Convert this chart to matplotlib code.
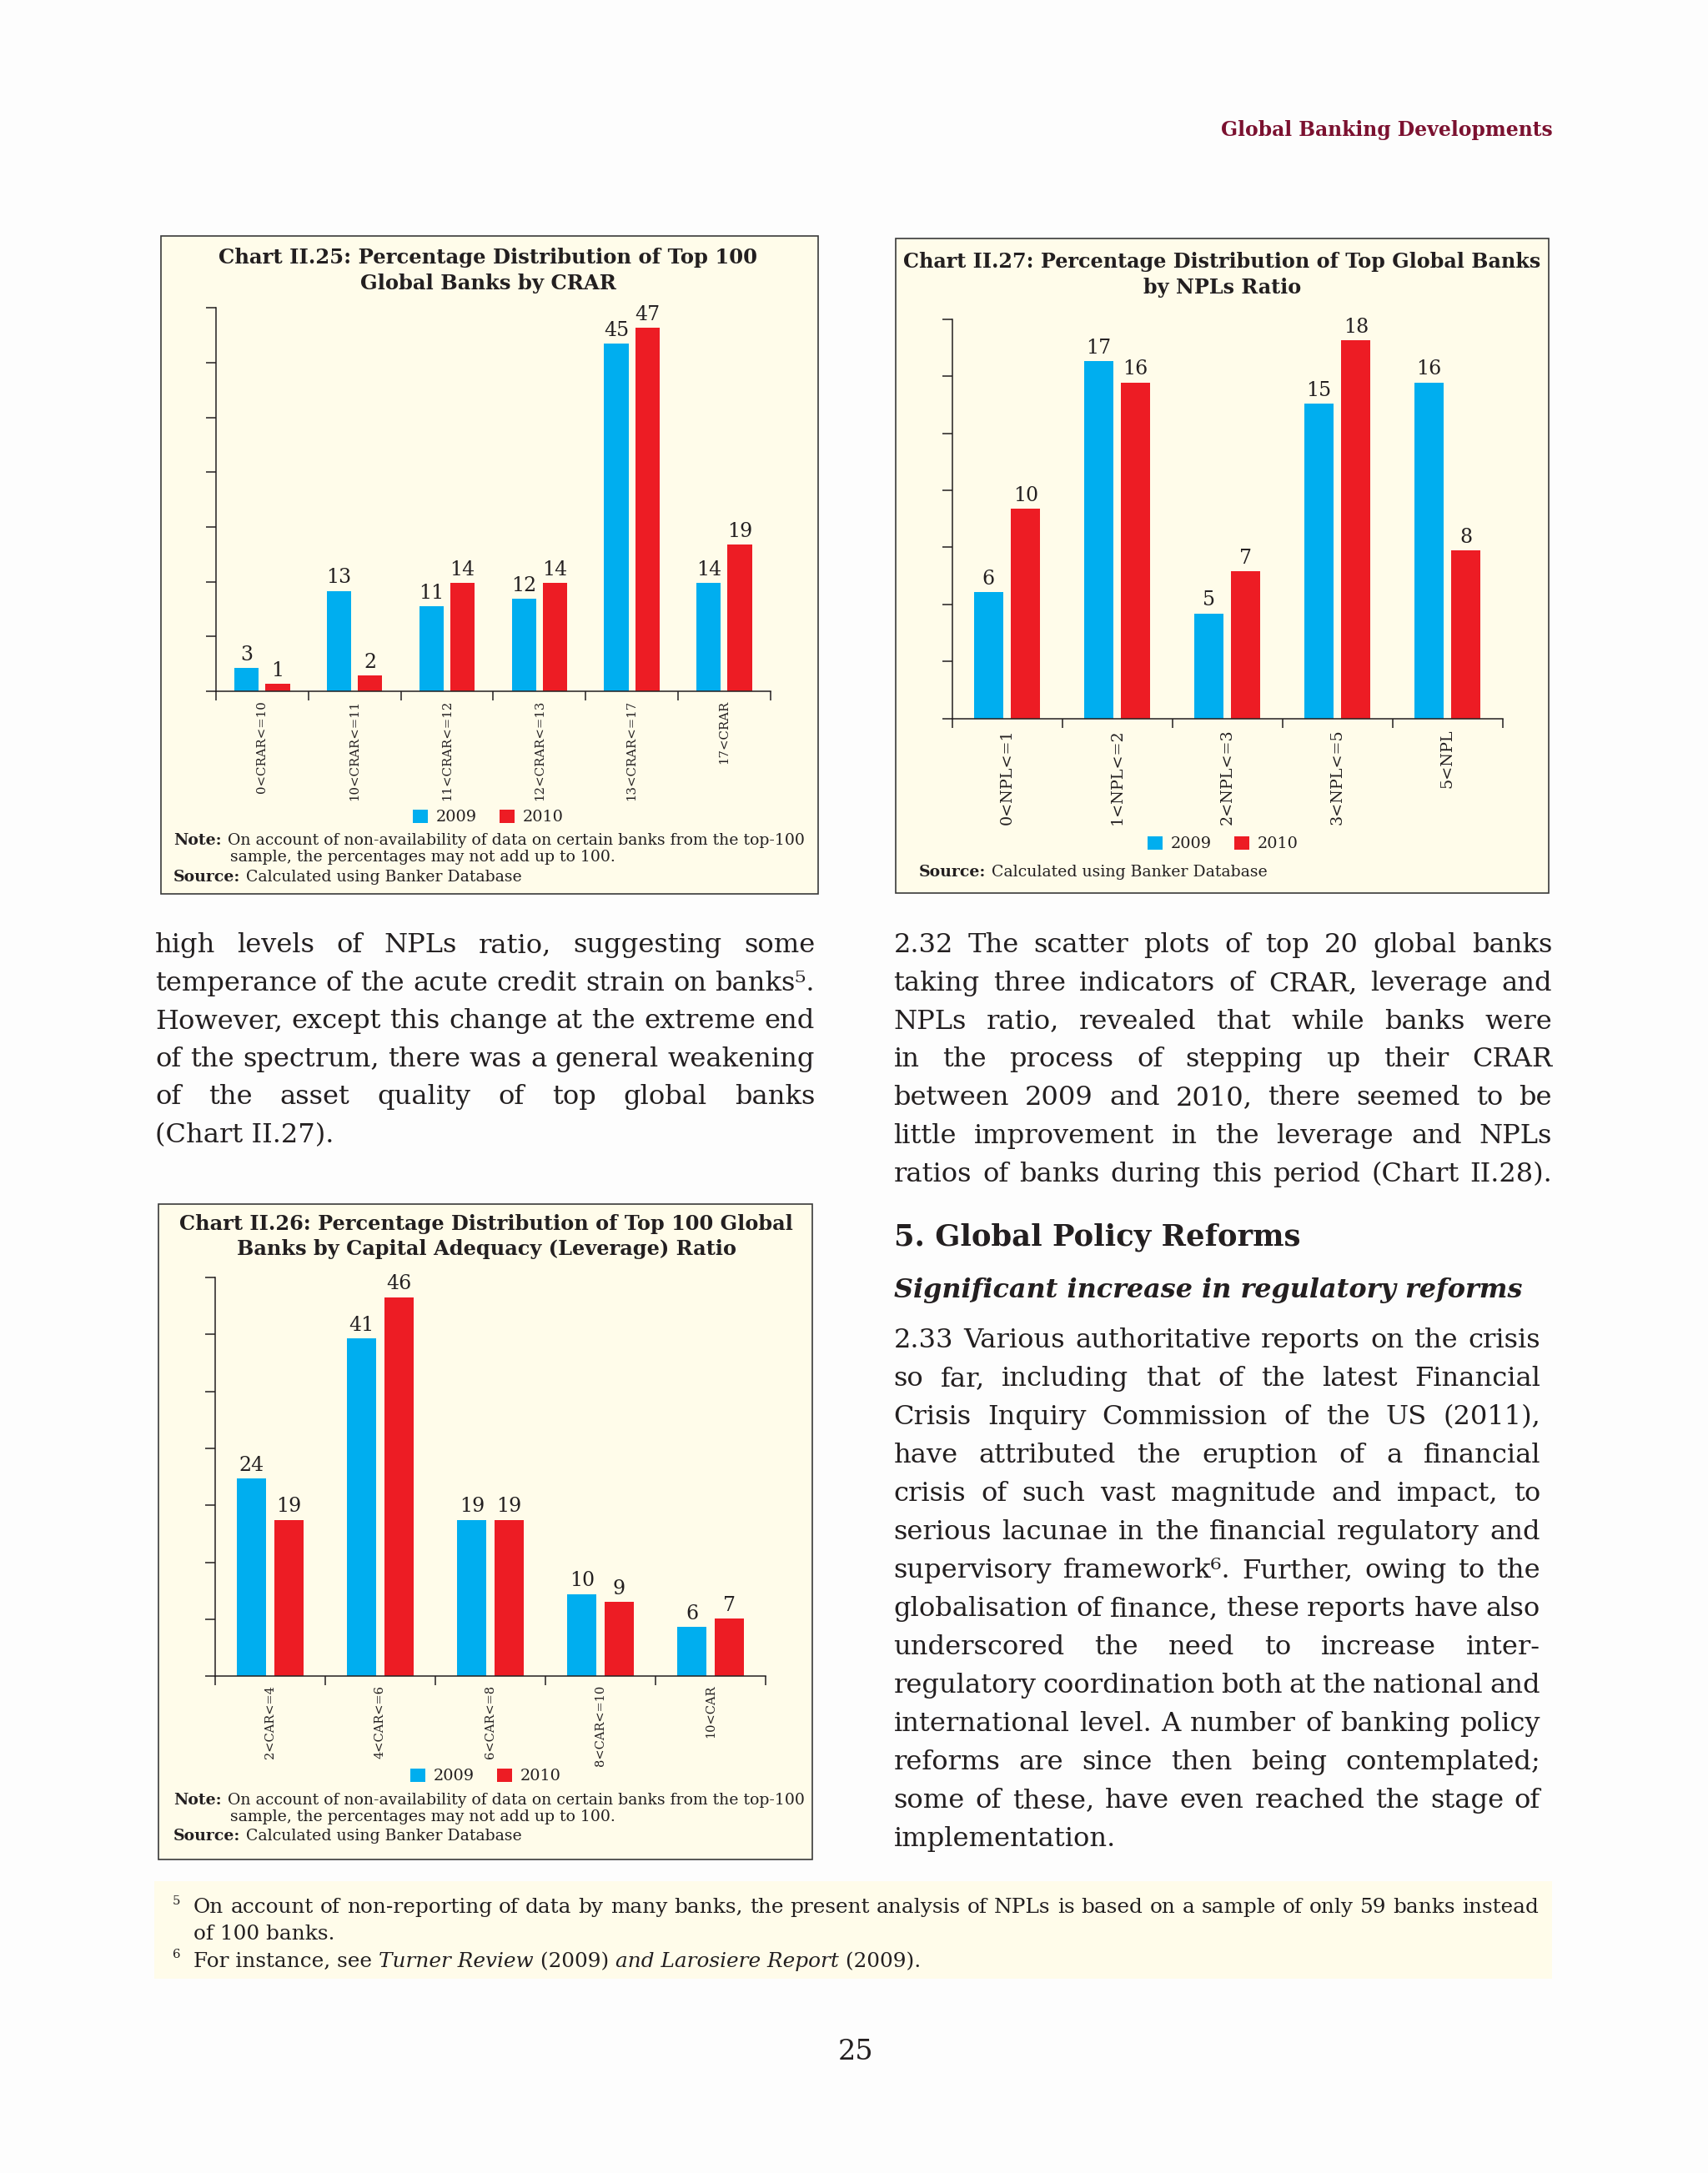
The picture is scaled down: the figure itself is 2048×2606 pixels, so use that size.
import numpy as np
import matplotlib
matplotlib.use('Agg')
import matplotlib.pyplot as plt
from matplotlib.patches import Rectangle

# ---- chart data ----
years = ['2009', '2010']

crar_cats = ['0<CRAR<=10', '10<CRAR<=11', '11<CRAR<=12', '12<CRAR<=13', '13<CRAR<=17', '17<CRAR']
crar_2009 = [3, 13, 11, 12, 45, 14]
crar_2010 = [1, 2, 14, 14, 47, 19]

lev_cats = ['2<CAR<=4', '4<CAR<=6', '6<CAR<=8', '8<CAR<=10', '10<CAR']
lev_2009 = [24, 41, 19, 10, 6]
lev_2010 = [19, 46, 19, 9, 7]

npl_cats = ['0<NPL<=1', '1<NPL<=2', '2<NPL<=3', '3<NPL<=5', '5<NPL']
npl_2009 = [6, 17, 5, 15, 16]
npl_2010 = [10, 16, 7, 18, 8]

# ---- page text ----
header = 'Global Banking Developments'
title_25 = ['Chart II.25: Percentage Distribution of Top 100', 'Global Banks by CRAR']
title_26 = ['Chart II.26: Percentage Distribution of Top 100 Global',
            'Banks by Capital Adequacy (Leverage) Ratio']
title_27 = ['Chart II.27: Percentage Distribution of Top Global Banks', 'by NPLs Ratio']
note_lines = ['On account of non-availability of data on certain banks from the top-100',
              'sample, the percentages may not add up to 100.']
source_text = 'Calculated using Banker Database'

left_para = ['high levels of NPLs ratio, suggesting some',
             'temperance of the acute credit strain on banks\u2075.',
             'However, except this change at the extreme end',
             'of the spectrum, there was a general weakening',
             'of the asset quality of top global banks',
             '(Chart II.27).']
para_232 = ['2.32 The scatter plots of top 20 global banks',
            'taking three indicators of CRAR, leverage and',
            'NPLs ratio, revealed that while banks were',
            'in the process of stepping up their CRAR',
            'between 2009 and 2010, there seemed to be',
            'little improvement in the leverage and NPLs',
            'ratios of banks during this period (Chart II.28).']
heading = '5. Global Policy Reforms'
subheading = 'Significant increase in regulatory reforms'
para_233 = ['2.33 Various authoritative reports on the crisis',
            'so far, including that of the latest Financial',
            'Crisis Inquiry Commission of the US (2011),',
            'have attributed the eruption of a financial',
            'crisis of such vast magnitude and impact, to',
            'serious lacunae in the financial regulatory and',
            'supervisory framework\u2076. Further, owing to the',
            'globalisation of finance, these reports have also',
            'underscored the need to increase inter-',
            'regulatory coordination both at the national and',
            'international level. A number of banking policy',
            'reforms are since then being contemplated;',
            'some of these, have even reached the stage of',
            'implementation.']
foot_5 = ['On account of non-reporting of data by many banks, the present analysis of NPLs is based on a sample of only 59 banks instead',
          'of 100 banks.']
foot_6 = [('For instance, see ', 'normal'), ('Turner Review', 'italic'), (' (2009) ', 'normal'),
          ('and Larosiere Report', 'italic'), (' (2009).', 'normal')]

W, H = 2048, 2606
BLUE, RED = '#00AEEF', '#ED1C24'
INK = '#231F20'
CREAM = '#FFFCEA'
SERIF = 'DejaVu Serif'
MIN_GAP = 0.22  # smallest word gap, in em

fig = plt.figure(figsize=(W / 100, H / 100), dpi=100, facecolor='#FDFDFD')
R = fig.canvas.get_renderer()


def fx(x):
    return x / W


def fy(y):
    return 1 - y / H


def put(x, y, s, size, ha='left', va='center_baseline', **kw):
    kw.setdefault('color', INK)
    kw.setdefault('family', SERIF)
    return fig.text(fx(x), fy(y), s, fontsize=size, ha=ha, va=va, **kw)


def width(s, size, **kw):
    t = put(0, 0, s, size, **kw)
    w = t.get_window_extent(R).width
    t.remove()
    return w


def fit(s, target, **kw):
    return 10 * target / width(s, 10, **kw)


def fit_tight(s, target):
    # size at which the words fit with the smallest allowed gap
    words = s.split()
    wd = sum(width(w, 10) for w in words) / 10
    return target / (wd + (len(words) - 1) * MIN_GAP * 100 / 72)


def justify(s, x0, x1, y, size, **kw):
    words = s.split()
    ws = [width(w, size, **kw) for w in words]
    gap = (x1 - x0 - sum(ws)) / (len(words) - 1)
    x = x0
    for w, wd in zip(words, ws):
        put(x, y, w, size, **kw)
        x += wd + gap


def box(x0, y0, x1, y1, edge=True):
    fig.add_artist(Rectangle((fx(x0), fy(y1)), (x1 - x0) / W, (y1 - y0) / H,
                             transform=fig.transFigure, facecolor=CREAM,
                             edgecolor='#3A3A3A' if edge else 'none', lw=1.2, zorder=-1))


def chart(L, Rt, T, B, ymax, cats, a, b, tick_size, pad):
    ax = fig.add_axes([fx(L), fy(B), (Rt - L) / W, (B - T) / H])
    ax.patch.set_visible(False)
    n = len(cats)
    x = np.arange(n)
    b1 = ax.bar(x - 0.168, a, 0.265, color=BLUE, label=years[0])
    b2 = ax.bar(x + 0.168, b, 0.265, color=RED, label=years[1])
    for c in (b1, b2):
        ax.bar_label(c, padding=3, fontsize=17, family=SERIF, color=INK)
    ax.set_xlim(-0.5, n - 0.5)
    ax.set_ylim(0, ymax)
    ax.set_yticks(np.linspace(0, ymax, 8))
    ax.set_yticklabels([])
    ax.set_xticks(np.arange(n + 1) - 0.5)
    ax.set_xticklabels([])
    ax.set_xticks(x, minor=True)
    ax.set_xticklabels(cats, minor=True, rotation=90, fontsize=tick_size,
                       family=SERIF, color=INK)
    ax.tick_params(axis='x', which='major', length=8, width=1.1, color=INK)
    ax.tick_params(axis='x', which='minor', length=0, pad=pad)
    ax.tick_params(axis='y', length=9, width=1.1, color=INK)
    for s in ('top', 'right'):
        ax.spines[s].set_visible(False)
    for s in ('left', 'bottom'):
        ax.spines[s].set_linewidth(1.1)
        ax.spines[s].set_color(INK)
    return ax


def legend(ax, cx, cy, size):
    ax.legend(loc='center', bbox_to_anchor=(fx(cx), fy(cy)), bbox_transform=fig.transFigure,
              ncol=2, frameon=False, prop={'family': SERIF, 'size': size}, labelcolor=INK,
              handlelength=0.95, handleheight=0.95, handletextpad=0.5, columnspacing=1.4,
              borderpad=0, borderaxespad=0)


def title(lines, cx, ys, target):
    size = fit(lines[0], target, weight='bold')
    for s, y in zip(lines, ys):
        put(cx, y, s, size, ha='center', weight='bold')


# note font: "Note: On account ... top-100" spans 761 px
note_size = 10 * (761 - 7) / (width('Note:', 10, weight='bold') + width(note_lines[0], 10))
leg_size = fit('2009', 48.5)


def source_line(x, y):
    put(x, y, 'Source:', note_size, weight='bold')
    put(x + width('Source:', note_size, weight='bold') + 7, y, source_text, note_size)


def note_block(x, y_note, y_src):
    put(x, y_note, 'Note:', note_size, weight='bold')
    x_txt = x + width('Note:', note_size, weight='bold') + 7
    put(x_txt, y_note, note_lines[0], note_size)
    put(x_txt + 3, y_note + 19.7, note_lines[1], note_size)
    source_line(x, y_src)


# header
put(1862, 153, header, fit(header, 400, weight='bold'), ha='right', weight='bold', color='#7B1130')

# Chart II.25
box(192.7, 282.7, 981, 1072)
title(title_25, 585.5, [306.6, 337.2], 647)
ax1 = chart(259, 923.8, 369.4, 829, 49.6, crar_cats, crar_2009, crar_2010,
            fit('10<CRAR<=11', 115) * 1.04, 8)
legend(ax1, 585, 980, leg_size)
note_block(208, 1006, 1050)

# Chart II.27
box(1074, 286, 1856.8, 1070.8)
title(title_27, 1465.5, [311.6, 342.2], 766)
ax3 = chart(1141.5, 1801.7, 383, 861.6, 19.0, npl_cats, npl_2009, npl_2010,
            fit('0<NPL<=1', 110) * 1.04, 9)
legend(ax3, 1466, 1012, leg_size)
source_line(1101.7, 1043.8)

# Chart II.26
box(190, 1444, 974, 2230)
title(title_26, 583, [1465.5, 1496], 736)
ax2 = chart(258, 918, 1531.8, 2010.4, 48.4, lev_cats, lev_2009, lev_2010,
            fit('8<CAR<=10', 93) * 1.04, 7.5)
legend(ax2, 582, 2130, leg_size)
note_block(208, 2156.8, 2200)

# body text
blocks = [(left_para, 186, 977), (para_232, 1071.5, 1861), (para_233, 1071.5, 1847)]
body = min(fit_tight(s, x1 - x0) for lines, x0, x1 in blocks for s in lines[:-1])

for i, s in enumerate(left_para[:-1]):
    justify(s, 186, 977, 1130 + i * 45.6, body)
put(186, 1130 + 5 * 45.6, left_para[-1], body)

for i, s in enumerate(para_232):
    justify(s, 1071.5, 1861, 1130 + i * 45.8, body)

put(1071.5, 1480, heading, fit(heading, 488, weight='bold'), weight='bold')
put(1072, 1544, subheading, fit(subheading, 754, weight='bold', style='italic'),
    weight='bold', style='italic')

for i, s in enumerate(para_233[:-1]):
    justify(s, 1071.5, 1847, 1604 + i * 46.0, body)
put(1071.5, 1604 + 13 * 46.0, para_233[-1], body)

# footnotes
box(185, 2256, 1861, 2373, edge=False)
fsize = fit(foot_5[0], 1613)
put(207, 2278, '5', fsize * 0.6)
justify(foot_5[0], 232, 1845, 2285, fsize)
put(232, 2316.7, foot_5[1], fsize)
put(207, 2343, '6', fsize * 0.6)
x = 232
for seg, st in foot_6:
    put(x, 2350, seg, fsize, style=st)
    x += width(seg.replace(' ', '\u00a0'), fsize, style=st)

# page number
put(1026, 2457, '25', fit('25', 42), ha='center')

fig.savefig('out.png', dpi=100, facecolor=fig.get_facecolor())
